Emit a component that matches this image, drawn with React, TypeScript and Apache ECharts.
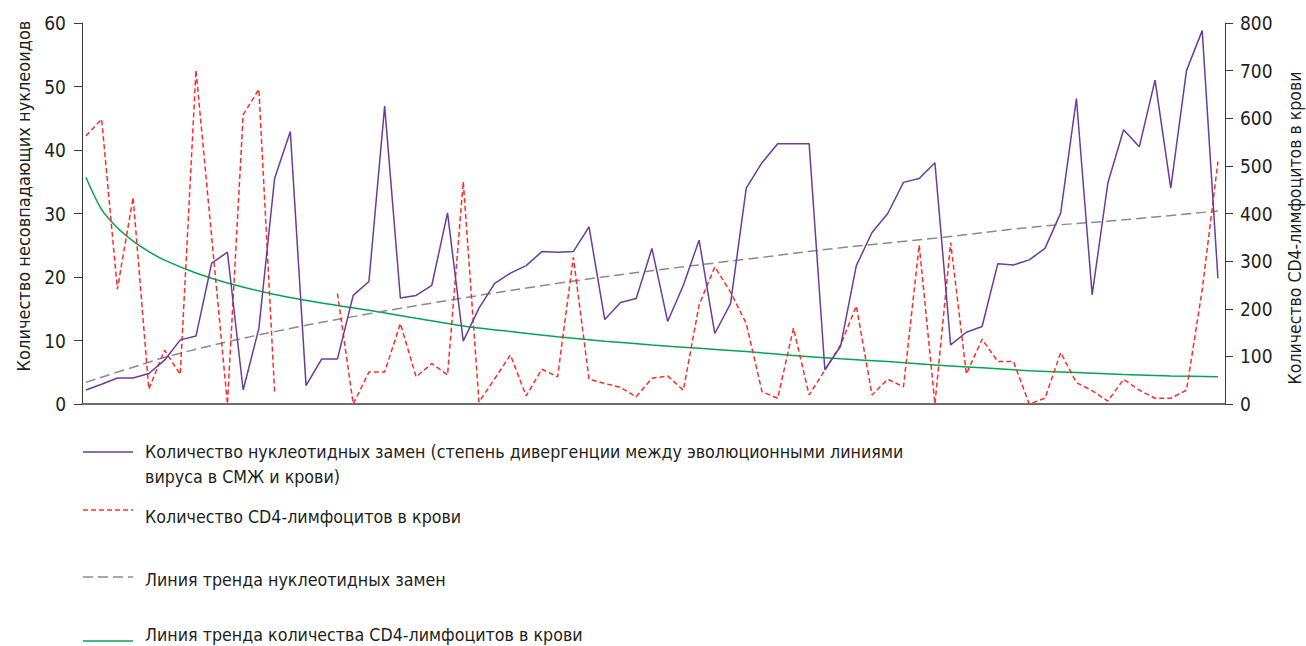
import React, { useEffect, useRef } from "react";
import * as echarts from "echarts";

// x positions (sample index)
const sampleIndex: number[] = Array.from({ length: 73 }, (_, i) => i + 1);

// Number of nucleotide substitutions (left axis)
const substitutions: number[] = [
  2.2, 3.1, 4.1, 4.1, 4.8, 6.9, 10.1, 10.7, 22.2, 23.9,
  2.2, 11.9, 35.5, 42.9, 2.9, 7.1, 7.1, 17.1, 19.3, 46.9,
  16.7, 17.1, 18.7, 30.1, 9.9, 15.1, 19.0, 20.6, 21.8, 24.0,
  23.9, 24.0, 27.9, 13.3, 16.0, 16.6, 24.5, 13.0, 18.7, 25.8,
  11.1, 15.8, 34.0, 38.0, 41.0, 41.0, 41.0, 5.4, 9.1, 21.8,
  27.0, 30.0, 34.9, 35.5, 38.0, 9.3, 11.3, 12.2, 22.1, 21.9,
  22.7, 24.5, 30.1, 48.1, 17.2, 34.8, 43.2, 40.5, 51.0, 34.0,
  52.5, 58.8, 19.8,
];

// CD4 lymphocytes in blood (right axis)
const cd4: (number | null)[] = [
  563, 598, 241, 434, 31, 113, 62, 701, 350, 0,
  607, 661, 26, null, null, null, 232, 0, 67, 67,
  169, 57, 85, 61, 467, 4, 53, 103, 17, 73,
  57, 308, 52, 43, 35, 15, 54, 59, 29, 208,
  288, 235, 169, 26, 12, 159, 19, 71, 124, 206,
  19, 52, 36, 334, 0, 339, 63, 136, 89, 89,
  0, 12, 108, 45, 28, 6, 52, 29, 12, 12,
  29, 240, 509,
];

// Trend of substitutions
const subTrendIndex: number[] = [1, 4, 7, 13, 19, 25, 31, 37, 43, 49, 55, 61, 67, 73];
const subTrendValues: number[] = [3.4, 5.8, 8.0, 11.4, 14.2, 16.7, 19.0, 21.0, 22.8, 24.6, 26.1, 27.8, 29.0, 30.4];

// Trend of CD4
const cd4TrendIndex: number[] = [1, 2, 3, 4, 5, 6, 8, 10, 13, 16, 19, 22, 25, 28, 31, 34, 37, 40, 43, 46, 49, 52, 55, 58, 61, 64, 67, 70, 73];
const cd4TrendValues: number[] = [476, 408, 370, 342, 320, 302, 275, 254, 230, 212, 197, 180, 164, 152, 141, 132, 124, 117, 110, 102, 95, 89, 82, 76, 70, 66, 62, 59, 57];

const leftTicks: number[] = [0, 10, 20, 30, 40, 50, 60];
const rightTicks: number[] = [0, 100, 200, 300, 400, 500, 600, 700, 800];

const leftAxisName = "Количество несовпадающих нуклеоидов";
const rightAxisName = "Количество CD4-лимфоцитов в крови";
const legendTexts: string[] = [
  "Количество нуклеотидных замен (степень дивергенции между эволюционными линиями",
  "вируса в СМЖ и крови)",
  "Количество CD4-лимфоцитов в крови",
  "Линия тренда нуклеотидных замен",
  "Линия тренда количества CD4-лимфоцитов в крови",
];

const FONT = "'Liberation Sans Narrow', 'DejaVu Sans Condensed', Arial, sans-serif";
const PURPLE = "#6a3d9a";
const RED = "#ff2b2b";
const GREY = "#8a8a8a";
const GREEN = "#00a651";
const TEXT = "#231f20";

export default function App() {
  const ref = useRef<HTMLDivElement>(null);
  useEffect(() => {
    if (!ref.current) return;
    const chart = echarts.init(ref.current, undefined, { renderer: "svg" });
    const pairs = (xs: number[], ys: (number | null)[]) => xs.map((x, i) => [x, ys[i]]);

    const legendLine = (y: number, color: string, dash: number[] | null) => ({
      type: "line",
      shape: { x1: 83, y1: y, x2: 133, y2: y },
      style: { stroke: color, lineWidth: 1.5, lineDash: dash || undefined },
    });
    const legendText = (y: number, text: string) => ({
      type: "text",
      x: 145,
      y,
      style: { text, fill: TEXT, font: `17.7px ${FONT}`, textVerticalAlign: "middle", textAlign: "left" },
    });

    chart.setOption({
      animation: false,
      grid: { left: 82, right: 81, top: 23, bottom: 242, containLabel: false },
      xAxis: {
        type: "value",
        min: 0.75,
        max: 73.45,
        axisLine: { show: true, lineStyle: { color: "#6d6d6d", width: 2 } },
        axisTick: { show: false },
        axisLabel: { show: false },
        splitLine: { show: false },
      },
      yAxis: [
        {
          type: "value",
          min: leftTicks[0],
          max: leftTicks[leftTicks.length - 1],
          interval: 10,
          position: "left",
          axisLine: { show: true, lineStyle: { color: "#3a3a3a", width: 1 } },
          axisTick: { show: true, inside: false, length: 8, lineStyle: { color: "#3a3a3a" } },
          axisLabel: { color: TEXT, fontSize: 19, fontFamily: FONT, margin: 16 },
          splitLine: { show: false },
        },
        {
          type: "value",
          min: rightTicks[0],
          max: rightTicks[rightTicks.length - 1],
          interval: 100,
          position: "right",
          axisLine: { show: true, lineStyle: { color: "#3a3a3a", width: 1 } },
          axisTick: { show: true, inside: false, length: 8, lineStyle: { color: "#3a3a3a" } },
          axisLabel: { color: TEXT, fontSize: 19, fontFamily: FONT, margin: 15 },
          splitLine: { show: false },
        },
      ],
      series: [
        {
          type: "line",
          name: "cd4Trend",
          yAxisIndex: 1,
          data: pairs(cd4TrendIndex, cd4TrendValues),
          smooth: 0.3,
          symbol: "none",
          lineStyle: { color: GREEN, width: 1.5 },
          z: 2,
        },
        {
          type: "line",
          name: "subTrend",
          yAxisIndex: 0,
          data: pairs(subTrendIndex, subTrendValues),
          smooth: 0.4,
          symbol: "none",
          lineStyle: { color: GREY, width: 1.5, type: [10, 5] },
          z: 3,
        },
        {
          type: "line",
          name: "cd4",
          yAxisIndex: 1,
          data: pairs(sampleIndex, cd4),
          connectNulls: false,
          symbol: "none",
          lineStyle: { color: RED, width: 1.5, type: [5, 3] },
          z: 4,
        },
        {
          type: "line",
          name: "subs",
          yAxisIndex: 0,
          data: pairs(sampleIndex, substitutions),
          symbol: "none",
          lineStyle: { color: PURPLE, width: 1.5 },
          z: 5,
        },
      ],
      graphic: [
        {
          type: "text",
          x: 23,
          y: 196,
          rotation: Math.PI / 2,
          style: { text: leftAxisName, fill: TEXT, font: `18px ${FONT}`, textAlign: "center", textVerticalAlign: "middle" },
        },
        {
          type: "text",
          x: 1295,
          y: 228,
          rotation: Math.PI / 2,
          style: { text: rightAxisName, fill: TEXT, font: `17.5px ${FONT}`, textAlign: "center", textVerticalAlign: "middle" },
        },
        legendLine(452, PURPLE, null),
        legendText(452, legendTexts[0]),
        legendText(477, legendTexts[1]),
        legendLine(510, RED, [5, 3]),
        legendText(517, legendTexts[2]),
        legendLine(577, GREY, [10, 5]),
        legendText(580, legendTexts[3]),
        legendLine(641, GREEN, null),
        legendText(635, legendTexts[4]),
      ],
    });
    return () => chart.dispose();
  }, []);
  return (
    <div
      ref={ref}
      style={{ position: "absolute", left: 0, top: 0, width: 1306, height: 646, background: "#fff" }}
    />
  );
}
